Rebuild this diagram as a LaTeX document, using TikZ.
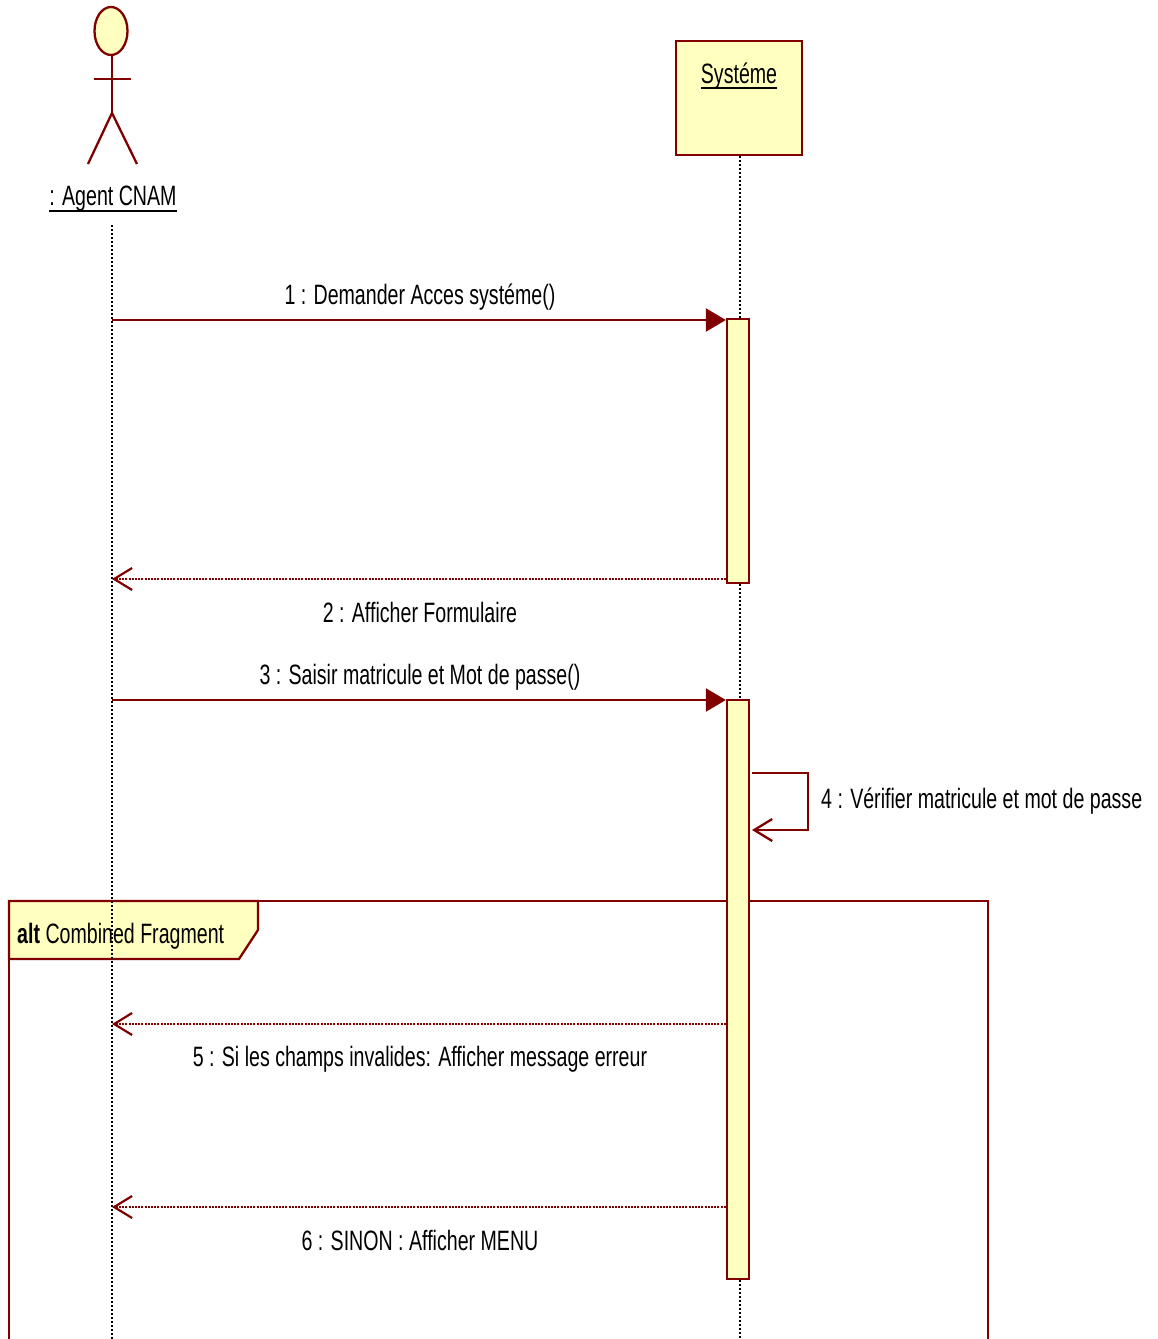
\documentclass[tikz,border=0pt]{standalone}
\usepackage{fontspec}
\setmainfont{Liberation Sans}[FakeStretch=0.7]
\usetikzlibrary{arrows.meta}
\definecolor{umlred}{RGB}{128,0,0}
\definecolor{umlfill}{RGB}{255,255,192}
\begin{document}
\begin{tikzpicture}[x=1pt,y=-1pt,
  redline/.style={draw=umlred, line width=2.3pt},
  lifeline/.style={draw=black, line width=1.7pt, dash pattern=on 2pt off 2pt},
  call/.style={redline, -{Triangle[length=20pt,width=23pt]}},
  reply/.style={draw=umlred, line width=2.2pt, dash pattern=on 2pt off 1.2pt, -{Straight Barb[length=18pt,width=22pt]}},
  selfmsg/.style={redline, -{Straight Barb[length=18pt,width=22pt]}},
  lbl/.style={font=\fontsize{28}{30}\selectfont, text=black, inner sep=0pt, anchor=base},
  uline/.style={draw=black, line width=1.8pt},
  act/.style={draw=umlred, line width=2.3pt, fill=umlfill, minimum width=22pt, inner sep=0pt}]
\useasboundingbox (0,0) rectangle (1158,1339);
\clip (0,0) rectangle (1158,1339);

% combined fragment
\draw[redline] (9,1350) -- (9,901) -- (988,901) -- (988,1350);
\draw[redline, fill=umlfill] (9,901) -- (258,901) -- (258,930) -- (239,959) -- (9,959) -- cycle;
\node[lbl, anchor=base west] (altlbl) at (17,943) {\textbf{alt} Combined Fragment};

% actor
\draw[redline, fill=umlfill] (111,31) ellipse [x radius=16.5pt, y radius=24pt];
\coordinate (neck) at (112,55);
\coordinate (hip) at (112,113);
\draw[redline] (neck) -- (hip);
\draw[redline] (94,79) -- (131,79);
\draw[redline] (hip) -- (88,164);
\draw[redline] (hip) -- (137,164);
\node[lbl] (actor) at (113,205) {: Agent CNAM};
\draw[uline] ([yshift=-6pt]actor.base west) -- ([yshift=-6pt]actor.base east);

% system object
\node[draw=umlred, line width=2.3pt, fill=umlfill, minimum width=126pt, minimum height=114pt, anchor=north west, inner sep=0pt] (sys) at (675,40) {};
\node[lbl] (sysname) at (739,83) {Systéme};
\draw[uline] ([yshift=-5pt]sysname.base west) -- ([yshift=-5pt]sysname.base east);

% lifelines
\coordinate (aTop) at (112,225);
\coordinate (aBot) at (112,1350);
\coordinate (sBot) at (740,1350);
\draw[lifeline] (aTop) -- (aBot);
\draw[lifeline] (sys.south -| 740,0) -- (sBot);

% activations
\node[act, minimum height=264pt] (act1) at (738,451) {};
\node[act, minimum height=579pt] (act2) at (738,989.5) {};

% messages
\coordinate (m1) at (112,320);
\draw[call] (m1) -- (m1 -| act1.west);
\node[lbl] (l1) at (420,304) {1 : Demander Acces systéme()};

\coordinate (m2) at (112,579);
\draw[reply] (m2 -| act1.west) -- (m2);
\node[lbl] (l2) at (420,622) {2 : Afficher Formulaire};

\coordinate (m3) at (112,700);
\draw[call] (m3) -- (m3 -| act2.west);
\node[lbl] (l3) at (420,684) {3 : Saisir matricule et Mot de passe()};

\coordinate (s1) at (752,773);
\coordinate (s2) at (808,773);
\coordinate (s3) at (808,830);
\coordinate (s4) at (752,830);
\draw[selfmsg] (s1) -- (s2) -- (s3) -- (s4);
\node[lbl, anchor=base west] (l4) at (821,808) {4 : Vérifier matricule et mot de passe};

\coordinate (m5) at (112,1024);
\draw[reply] (m5 -| act2.west) -- (m5);
\node[lbl] (l5) at (420,1066) {5 : Si les champs invalides: Afficher message erreur};

\coordinate (m6) at (112,1207);
\draw[reply] (m6 -| act2.west) -- (m6);
\node[lbl] (l6) at (420,1250) {6 : SINON : Afficher MENU};
\end{tikzpicture}
\end{document}
